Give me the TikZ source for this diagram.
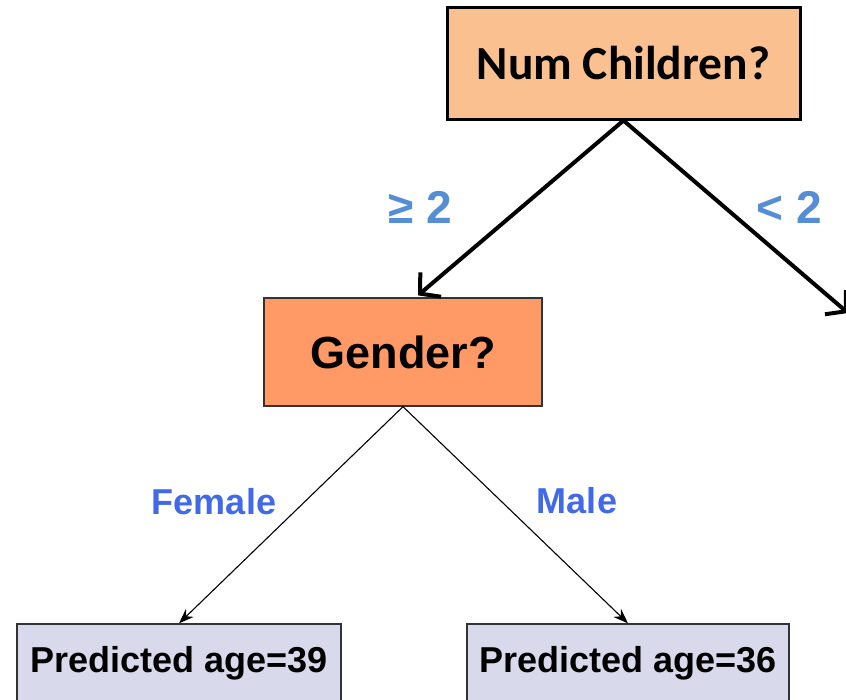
\documentclass[tikz,border=0pt]{standalone}
\usepackage{fontspec}
\setmainfont{Liberation Sans}
\newfontfamily\carlito{Carlito}
\usetikzlibrary{arrows.meta}
\definecolor{topfill}{HTML}{FAC090}
\definecolor{genfill}{HTML}{FF9966}
\definecolor{leaffill}{HTML}{D9D9EC}
\definecolor{lblA}{HTML}{558ED5}
\definecolor{lblB}{HTML}{4169E8}
\tikzset{
  x=1pt, y=-1pt,
  topbox/.style={draw=black, line width=3pt, fill=topfill, inner sep=0pt,
    minimum width=353pt, minimum height=112pt,
    font=\carlito\bfseries\fontsize{47.5}{54}\selectfont},
  genbox/.style={draw=black!80, line width=1.3pt, fill=genfill, inner sep=0pt,
    minimum width=278pt, minimum height=108pt,
    font=\bfseries\fontsize{45}{52}\selectfont},
  leafbox/.style={draw=black!80, line width=1.3pt, fill=leaffill, inner sep=0pt,
    minimum height=78pt, font=\bfseries\fontsize{36}{42}\selectfont},
  bigarrow/.style={line width=4pt, -{Straight Barb[length=14pt,width=32pt]}},
  smallarrow/.style={line width=1.1pt, -{Stealth[length=15pt,width=11pt]}},
  toplabel/.style={text=lblA, font=\bfseries\fontsize{46}{52}\selectfont},
  sublabel/.style={text=lblB, font=\bfseries\fontsize{36}{42}\selectfont}
}
\begin{document}
\begin{tikzpicture}
\useasboundingbox (0,0) rectangle (846,699);
\clip (0,0) rectangle (846,699);
\node[topbox] (num) at (623.5,63) {Num Children?};
\node[genbox] (gender) at (403,352) {Gender?};
\node[leafbox, minimum width=324pt] (leafL) at (179,663) {Predicted age=39};
\node[leafbox, minimum width=322pt] (leafR) at (628,663) {Predicted age=36};
\coordinate (rightend) at (848,313);
\draw[bigarrow] (num.south) -- ([xshift=15pt,yshift=2pt]gender.north);
\draw[bigarrow] (num.south) -- (rightend);
\draw[smallarrow] (gender.south) -- (leafL.north);
\draw[smallarrow] (gender.south) -- (leafR.north);
\node[toplabel] (ge) at (420,207) {≥ 2};
\node[toplabel] (lt) at (789,207) {< 2};
\node[sublabel] (fem) at (214,502) {Female};
\node[sublabel] (mal) at (577,501) {Male};
\end{tikzpicture}
\end{document}
